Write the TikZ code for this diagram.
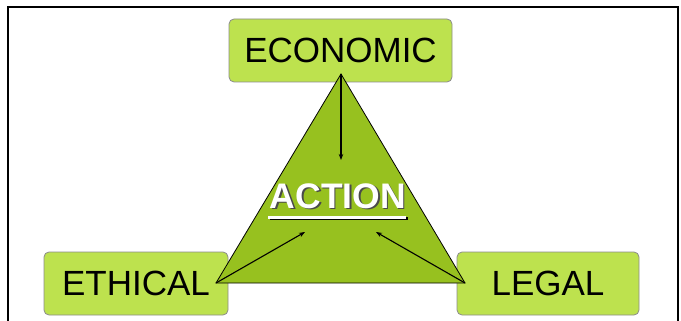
\documentclass[tikz,border=0pt]{standalone}
\usepackage{fontspec}
\setmainfont{Liberation Sans}
\usetikzlibrary{arrows.meta}
\definecolor{boxgreen}{HTML}{BDE24E}
\definecolor{trigreen}{HTML}{97C11F}
\definecolor{boxline}{HTML}{8C8C8C}
\definecolor{shade}{HTML}{4A4A4A}

\begin{document}
\begin{tikzpicture}[
    x=1pt, y=-1pt,
 mybox/.style = {
        draw=boxline, fill=boxgreen, rounded corners=5pt,
        line width=0.8pt, minimum height=63pt, inner sep=0pt,
        font=\fontsize{35}{35}\selectfont},
mylabel/.style = {
        anchor=base, inner sep=0pt,
        font=\fontsize{35.5}{35.5}\selectfont\bfseries},
     arrow/.style = {line width=1.1pt,-{Stealth[length=6pt,width=4.5pt]}}
                    ]
\useasboundingbox (0,0) rectangle (681,321);
% the slide frame
\draw[line width=1.6pt] (8,7) rectangle (678,340);
% the three boxes
\node (eco) [mybox, minimum width=223pt] at (340.5,50.5) {ECONOMIC};
\node (eth) [mybox, minimum width=184pt] at (136,283.5)  {ETHICAL};
\node (leg) [mybox, minimum width=182pt] at (548,283.5)  {LEGAL};
% the triangle over them
\coordinate (top) at (341,74);
\coordinate (lft) at (216,283);
\coordinate (rgt) at (465,283);
\filldraw[fill=trigreen, draw=black, line width=0.8pt]
        (top) -- (lft) -- (rgt) -- cycle;
% the word in the middle, with its shadow
\node (actsh) [mylabel, text=shade] at (339.5,209.5) {ACTION};
\draw[shade, line width=3pt] (269.5,218.5) -- (407.5,218.5);
\node (act)   [mylabel, text=white] at (338,208) {ACTION};
\draw[white, line width=3pt] (268,217) -- (406,217);
% arrows from the corners
\coordinate (ta) at (341,160);
\coordinate (la) at (305,232);
\coordinate (ra) at (376,232);
\draw[arrow] (top) -- (ta);
\draw[arrow] (lft) -- (la);
\draw[arrow] (rgt) -- (ra);
\end{tikzpicture}
\end{document}
